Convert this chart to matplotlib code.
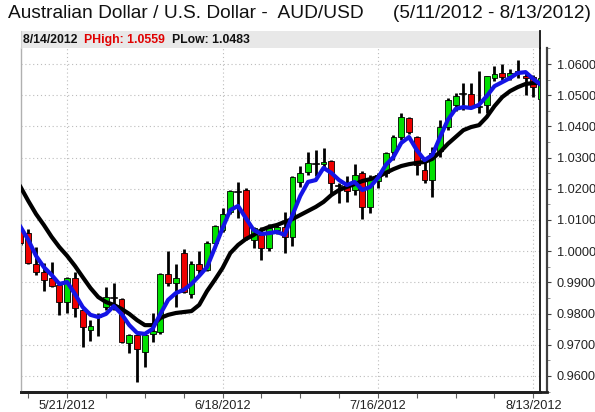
import matplotlib
matplotlib.use('Agg')
import matplotlib.pyplot as plt
import numpy as np
import pandas as pd
from matplotlib.patches import Rectangle
from matplotlib.ticker import MultipleLocator, FixedLocator

plt.rcParams['font.family'] = ['Liberation Sans', 'DejaVu Sans']

# ---------------- data ----------------
dates = pd.bdate_range('2012-05-11', '2012-08-14')

opens = [1.0068, 1.0057, 0.9958, 0.9934, 0.9913, 0.9892, 0.9836, 0.9913, 0.9812, 0.9748,
         0.9790, 0.9822, 0.9849, 0.9846, 0.9707, 0.9731, 0.9678, 0.9736, 0.9742, 0.9926,
         0.9897, 0.9993, 0.9862, 0.9958, 0.9940, 1.0025, 1.0068, 1.0127, 1.0190, 1.0196,
         1.0036, 1.0052, 1.0009, 1.0068, 1.0079, 1.0044, 1.0223, 1.0255, 1.0281, 1.0278,
         1.0290, 1.0208, 1.0209, 1.0196, 1.0250, 1.0141, 1.0226, 1.0250, 1.0319, 1.0367,
         1.0426, 1.0367, 1.0260, 1.0228, 1.0320, 1.0399, 1.0468, 1.0503, 1.0504, 1.0463,
         1.0469, 1.0554, 1.0570, 1.0562, 1.0570, 1.0560, 1.0559, 1.0487]

highs = [1.0075, 1.0070, 1.0015, 0.9961, 0.9964, 0.9895, 0.9916, 0.9934, 0.9815, 0.9780,
         0.9801, 0.9886, 0.9897, 0.9850, 0.9734, 0.9733, 0.9735, 0.9803, 0.9930, 1.0002,
         0.9958, 1.0006, 0.9969, 1.0002, 1.0033, 1.0085, 1.0137, 1.0196, 1.0223, 1.0202,
         1.0076, 1.0079, 1.0087, 1.0087, 1.0127, 1.0240, 1.0274, 1.0319, 1.0324, 1.0330,
         1.0292, 1.0218, 1.0241, 1.0279, 1.0258, 1.0244, 1.0250, 1.0319, 1.0372, 1.0442,
         1.0430, 1.0370, 1.0287, 1.0335, 1.0420, 1.0490, 1.0506, 1.0538, 1.0540, 1.0578,
         1.0562, 1.0594, 1.0600, 1.0585, 1.0613, 1.0570, 1.0565, 1.0559]

lows = [1.0020, 0.9959, 0.9924, 0.9872, 0.9886, 0.9796, 0.9801, 0.9790, 0.9692, 0.9713,
        0.9728, 0.9812, 0.9812, 0.9705, 0.9673, 0.9582, 0.9628, 0.9710, 0.9735, 0.9889,
        0.9820, 0.9865, 0.9849, 0.9924, 0.9935, 1.0015, 1.0060, 1.0120, 1.0105, 1.0035,
        1.0009, 0.9972, 1.0000, 1.0055, 0.9993, 1.0017, 1.0207, 1.0244, 1.0240, 1.0265,
        1.0180, 1.0153, 1.0159, 1.0180, 1.0102, 1.0121, 1.0201, 1.0239, 1.0292, 1.0356,
        1.0375, 1.0244, 1.0218, 1.0175, 1.0303, 1.0390, 1.0450, 1.0452, 1.0458, 1.0442,
        1.0442, 1.0545, 1.0550, 1.0550, 1.0555, 1.0500, 1.0495, 1.0483]

closes = [1.0026, 0.9963, 0.9932, 0.9908, 0.9890, 0.9836, 0.9913, 0.9817, 0.9756, 0.9760,
          0.9791, 0.9854, 0.9848, 0.9710, 0.9731, 0.9686, 0.9731, 0.9745, 0.9926, 0.9897,
          0.9913, 0.9870, 0.9958, 0.9940, 1.0025, 1.0081, 1.0119, 1.0194, 1.0192, 1.0041,
          1.0073, 1.0009, 1.0073, 1.0077, 1.0044, 1.0237, 1.0250, 1.0282, 1.0283, 1.0285,
          1.0220, 1.0206, 1.0194, 1.0244, 1.0141, 1.0230, 1.0244, 1.0314, 1.0367, 1.0429,
          1.0383, 1.0276, 1.0228, 1.0314, 1.0397, 1.0485, 1.0497, 1.0505, 1.0466, 1.0465,
          1.0562, 1.0568, 1.0559, 1.0570, 1.0579, 1.0555, 1.0525, 1.0554]

ma_fast = [1.0078, 1.0036, 0.9985, 0.9949, 0.9924, 0.9895, 0.9901, 0.9863, 0.9821, 0.9796,
           0.9789, 0.9799, 0.9824, 0.9799, 0.9763, 0.9738, 0.9735, 0.9751, 0.9799, 0.9844,
           0.9866, 0.9876, 0.9895, 0.9921, 0.9949, 1.0010, 1.0074, 1.0132, 1.0145, 1.0106,
           1.0068, 1.0055, 1.0058, 1.0062, 1.0052, 1.0116, 1.0177, 1.0222, 1.0228, 1.0267,
           1.0251, 1.0228, 1.0212, 1.0222, 1.0196, 1.0206, 1.0235, 1.0276, 1.0302, 1.0347,
           1.0366, 1.0324, 1.0292, 1.0308, 1.0366, 1.0421, 1.0456, 1.0462, 1.0459, 1.0469,
           1.0497, 1.0529, 1.0542, 1.0555, 1.0571, 1.0574, 1.0552, 1.0533]

ma_slow = [1.0206, 1.0161, 1.0119, 1.0084, 1.0046, 1.0013, 0.9985, 0.9953, 0.9917, 0.9882,
           0.9853, 0.9837, 0.9828, 0.9815, 0.9799, 0.9779, 0.9763, 0.9763, 0.9786, 0.9796,
           0.9802, 0.9805, 0.9808, 0.9828, 0.9872, 0.9908, 0.9946, 0.9994, 1.0020, 1.0039,
           1.0052, 1.0068, 1.0078, 1.0084, 1.0094, 1.0103, 1.0116, 1.0129, 1.0142, 1.0158,
           1.0180, 1.0196, 1.0206, 1.0215, 1.0225, 1.0231, 1.0238, 1.0251, 1.0263, 1.0273,
           1.0279, 1.0283, 1.0286, 1.0296, 1.0318, 1.0344, 1.0366, 1.0388, 1.0398, 1.0404,
           1.0430, 1.0465, 1.0494, 1.0513, 1.0526, 1.0536, 1.0539, 1.0539]

date_labels = ['5/21/2012', '6/18/2012', '7/16/2012', '8/13/2012']
y_ticks = [0.96, 0.97, 0.98, 0.99, 1.00, 1.01, 1.02, 1.03, 1.04, 1.05, 1.06]

title_left = 'Australian Dollar / U.S. Dollar -  AUD/USD'
title_right = '(5/11/2012 - 8/13/2012)'
info_date = '8/14/2012'
info_high = 'PHigh: 1.0559'
info_low = 'PLow: 1.0483'

# ---------------- figure ----------------
W, H = 595, 412
fig = plt.figure(figsize=(W / 100, H / 100), dpi=100)
fig.patch.set_facecolor('white')

def frac(x0, y0, x1, y1):
    return [x0 / W, 1 - y1 / H, (x1 - x0) / W, (y1 - y0) / H]

YMIN, YMAX = 0.95487, 1.06513
x = np.arange(len(dates))

# frame axes carrying the price scale (right spine at x=547)
axf = fig.add_axes(frac(21, 48, 547, 392))
axf.set_ylim(YMIN, YMAX)
axf.set_xlim(0, 1)
axf.patch.set_alpha(0)
for s in ['left', 'top']:
    axf.spines[s].set_visible(False)
axf.spines['right'].set_color('#404040')
axf.spines['right'].set_linewidth(1.6)
axf.spines['bottom'].set_color('#202020')
axf.spines['bottom'].set_linewidth(2.0)
axf.set_xticks([])
axf.yaxis.tick_right()
axf.yaxis.set_major_locator(FixedLocator(y_ticks))
axf.yaxis.set_minor_locator(MultipleLocator(0.005))
axf.set_yticklabels(['%.4f' % v for v in y_ticks])
axf.tick_params(axis='y', which='major', direction='out', length=3, width=0.8,
                colors='#404040', labelcolor='#222222', labelsize=9.2, pad=4)
axf.tick_params(axis='y', which='minor', direction='out', length=2, width=0.6, colors='#808080')

# main plot axes
ax = fig.add_axes(frac(21, 48, 540, 392))
ax.set_ylim(YMIN, YMAX)
ax.set_xlim(0.06, 66.86)
ax.patch.set_alpha(0)
ax.spines['top'].set_visible(False)
ax.spines['left'].set_color('#b0b0b0')
ax.spines['left'].set_linewidth(1.0)
ax.spines['right'].set_color('#101010')
ax.spines['right'].set_linewidth(1.3)
ax.spines['bottom'].set_color('#202020')
ax.spines['bottom'].set_linewidth(2.0)
ax.set_yticks([])

date_str = [f'{d.month}/{d.day}/{d.year}' for d in dates]
major_pos = [date_str.index(s) for s in date_labels]
minor_pos = [i for i, d in enumerate(dates) if d.weekday() == 0]
ax.xaxis.set_major_locator(FixedLocator(major_pos))
ax.xaxis.set_minor_locator(FixedLocator(minor_pos))
ax.set_xticklabels(date_labels)
ax.tick_params(axis='x', which='both', direction='out', length=4, width=0.8,
               colors='#606060', labelcolor='#222222', labelsize=9.2, pad=2)

# grid
for v in y_ticks:
    ax.axhline(v, color='#bcbcbc', lw=0.8, ls=(0, (1, 2.5)), zorder=0)
for p in major_pos:
    ax.axvline(p, color='#bcbcbc', lw=0.8, ls=(0, (1, 2.5)), zorder=0)

# candles
bw = 0.76
for i in range(len(x)):
    o, h, l, c = opens[i], highs[i], lows[i], closes[i]
    ax.plot([x[i], x[i]], [l, h], color='black', lw=2.0, solid_capstyle='butt', zorder=2)
    if abs(c - o) < 0.0004:
        ax.plot([x[i] - bw / 2, x[i] + bw / 2], [o, o], color='black', lw=1.2, zorder=3)
    else:
        col = '#00e000' if c > o else '#ee0000'
        ax.add_patch(Rectangle((x[i] - bw / 2, min(o, c)), bw, abs(c - o),
                               facecolor=col, edgecolor='black', lw=0.6, zorder=3))

ax.plot(x, ma_slow, color='black', lw=3.0, zorder=4, solid_joinstyle='round')
ax.plot(x, ma_fast, color='#1414e6', lw=3.0, zorder=5, solid_joinstyle='round')

# info band
axb = fig.add_axes(frac(21, 31, 540, 48))
axb.set_xlim(0, 1)
axb.set_ylim(0, 1)
axb.set_facecolor('#e8e8e8')
axb.set_xticks([])
axb.set_yticks([])
for s in ['top', 'bottom']:
    axb.spines[s].set_visible(False)
axb.spines['left'].set_color('#d0d0d0')
axb.spines['right'].set_color('#101010')
axb.spines['right'].set_linewidth(1.3)
fig.canvas.draw()
r = fig.canvas.get_renderer()
xpos = 0.004
for txt, col in [(info_date + '  ', '#111111'), (info_high + '  ', '#e00000'), (info_low, '#111111')]:
    t = axb.text(xpos, 0.45, txt, fontsize=8.8, fontweight='bold', color=col,
                 va='center', ha='left', transform=axb.transAxes)
    bb = t.get_window_extent(r)
    xpos = axb.transAxes.inverted().transform((bb.x1, bb.y0))[0]

# titles
fig.text(8 / W, 1 - 13 / H, title_left, fontsize=13.8, color='#111111', va='center', ha='left')
fig.text(591 / W, 1 - 13 / H, title_right, fontsize=13.7, color='#111111', va='center', ha='right')

fig.savefig('out.png', dpi=100)
